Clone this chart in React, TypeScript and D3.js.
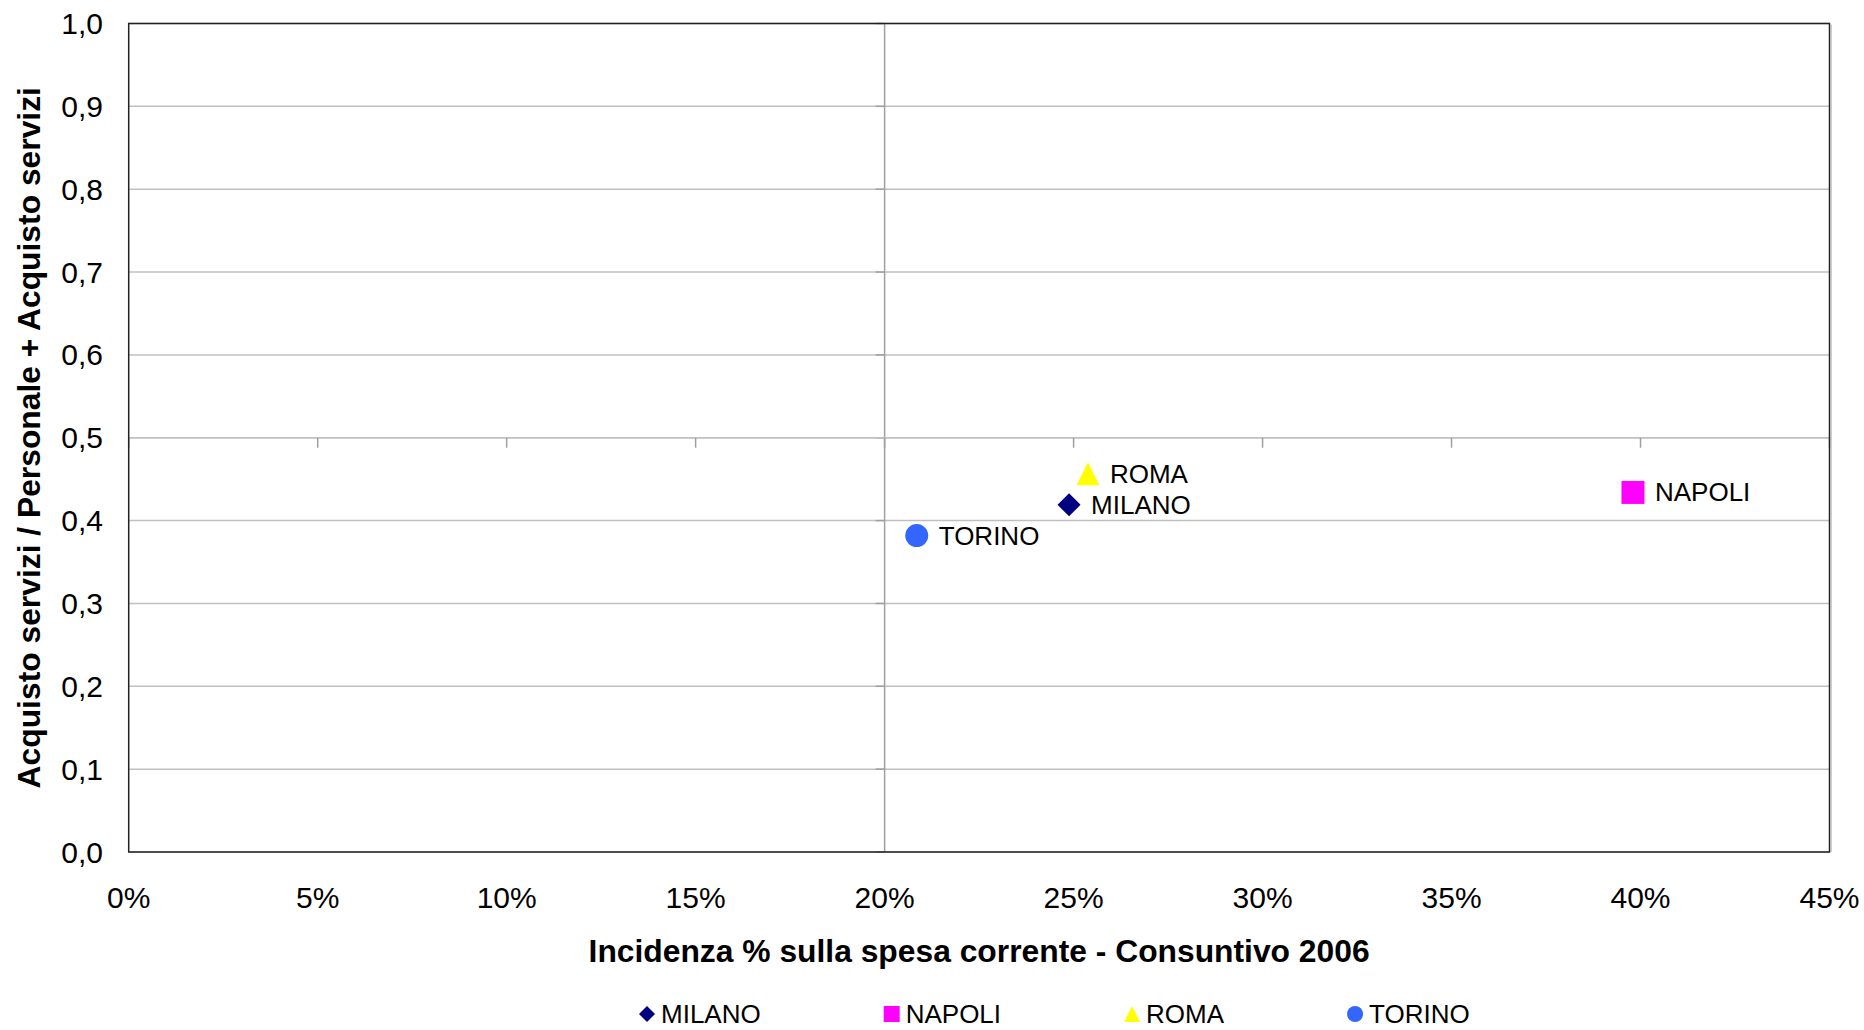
import React from "react";
import * as d3 from "d3";

const cities = ["MILANO", "NAPOLI", "ROMA", "TORINO"];
const incidenza = [0.2488, 0.398, 0.2538, 0.2085];
const rapporto = [0.419, 0.434, 0.4565, 0.382];
const colors = ["#000080", "#FF00FF", "#FFFF00", "#3366FF"];
const shapes = ["diamond", "square", "triangle", "circle"];
const xTicks = [0, 0.05, 0.1, 0.15, 0.2, 0.25, 0.3, 0.35, 0.4, 0.45];
const yTicks = [0, 0.1, 0.2, 0.3, 0.4, 0.5, 0.6, 0.7, 0.8, 0.9, 1.0];
const xTitle = "Incidenza % sulla spesa corrente - Consuntivo 2006";
const yTitle = "Acquisto servizi / Personale + Acquisto servizi";

const W = 1864;
const H = 1030;
const M = { left: 128.7, right: 1829.5, top: 23.5, bottom: 852 };
const FONT = "'Liberation Sans', Arial, Helvetica, sans-serif";

function markerPath(shape: string, size: number): string {
  const h = size / 2;
  switch (shape) {
    case "diamond":
      return `M0,${-h}L${h},0L0,${h}L${-h},0Z`;
    case "square":
      return `M${-h},${-h}H${h}V${h}H${-h}Z`;
    case "triangle":
      return `M0,${-h}L${h},${h}L${-h},${h}Z`;
    default:
      return d3.symbol(d3.symbolCircle, Math.PI * h * h)() || "";
  }
}

function measure(text: string, font: string): number {
  try {
    const c = document.createElement("canvas");
    const ctx = c.getContext("2d");
    if (ctx) {
      ctx.font = font;
      return ctx.measureText(text).width;
    }
  } catch (e) {}
  return text.length * 15;
}

export default function App() {
  const x = d3.scaleLinear().domain([0, 0.45]).range([M.left, M.right]);
  const y = d3.scaleLinear().domain([0, 1]).range([M.bottom, M.top]);
  const fmtY = (v: number) => d3.format(".1f")(v).replace(".", ",");
  const fmtX = (v: number) => `${Math.round(v * 100)}%`;

  const xCross = x(0.2);
  const yCross = y(0.5);

  // legend layout
  const legendFont = `26px ${FONT}`;
  const legendY = 1014;
  let cursor = 647;
  const legendItems = cities.map((c, i) => {
    const mx = cursor;
    const tx = mx + 14;
    const w = measure(c, legendFont);
    cursor = tx + w + 131;
    return { c, i, mx, tx };
  });

  return (
    <svg
      width={W}
      height={H}
      style={{ position: "absolute", left: 0, top: 0, background: "#fff" }}
      fontFamily={FONT}
    >
      <rect x={0} y={0} width={W} height={H} fill="#fff" />
      {/* gridlines */}
      {yTicks.map((t) => (
        <line
          key={`g${t}`}
          x1={M.left}
          x2={M.right}
          y1={y(t)}
          y2={y(t)}
          stroke="#c0c0c0"
          strokeWidth={1.5}
        />
      ))}
      {/* vertical axis at 20% */}
      <line x1={xCross} x2={xCross} y1={M.top} y2={M.bottom} stroke="#a0a0a0" strokeWidth={1.5} />
      {yTicks.map((t) => (
        <line
          key={`yt${t}`}
          x1={xCross - 9}
          x2={xCross}
          y1={y(t)}
          y2={y(t)}
          stroke="#a0a0a0"
          strokeWidth={1.5}
        />
      ))}
      {/* horizontal axis at 0.5 */}
      <line x1={M.left} x2={M.right} y1={yCross} y2={yCross} stroke="#c0c0c0" strokeWidth={1.5} />
      {xTicks.map((t) => (
        <line
          key={`xt${t}`}
          x1={x(t)}
          x2={x(t)}
          y1={yCross}
          y2={yCross + 10}
          stroke="#a0a0a0"
          strokeWidth={1.5}
        />
      ))}
      {/* plot border */}
      <line x1={M.right + 1.8} x2={M.right + 1.8} y1={M.top + 1} y2={M.bottom} stroke="#c8c8c8" strokeWidth={1.2} />
      <rect
        x={M.left}
        y={M.top}
        width={M.right - M.left}
        height={M.bottom - M.top}
        fill="none"
        stroke="#222"
        strokeWidth={1.5}
      />
      {/* y tick labels */}
      {yTicks.map((t) => (
        <text
          key={`yl${t}`}
          x={103}
          y={y(t)}
          textAnchor="end"
          dominantBaseline="central"
          fontSize={30}
          fill="#000"
        >
          {fmtY(t)}
        </text>
      ))}
      {/* x tick labels */}
      {xTicks.map((t) => (
        <text key={`xl${t}`} x={x(t)} y={908} textAnchor="middle" fontSize={30} fill="#000">
          {fmtX(t)}
        </text>
      ))}
      {/* titles */}
      <text
        x={(M.left + M.right) / 2}
        y={962}
        textAnchor="middle"
        fontSize={31.8}
        fontWeight="bold"
        fill="#000"
      >
        {xTitle}
      </text>
      <text
        transform={`translate(40,${(M.top + M.bottom) / 2}) rotate(-90)`}
        textAnchor="middle"
        fontSize={31.8}
        fontWeight="bold"
        fill="#000"
      >
        {yTitle}
      </text>
      {/* points */}
      {cities.map((c, i) => (
        <g key={c} transform={`translate(${x(incidenza[i])},${y(rapporto[i])})`}>
          <path d={markerPath(shapes[i], 23)} fill={colors[i]} />
          <text x={22} y={0} dominantBaseline="central" fontSize={26} fill="#000">
            {c}
          </text>
        </g>
      ))}
      {/* legend */}
      {legendItems.map(({ c, i, mx, tx }) => (
        <g key={`lg${c}`}>
          <path transform={`translate(${mx},${legendY})`} d={markerPath(shapes[i], 16)} fill={colors[i]} />
          <text x={tx} y={legendY} dominantBaseline="central" fontSize={26} fill="#000">
            {c}
          </text>
        </g>
      ))}
    </svg>
  );
}
